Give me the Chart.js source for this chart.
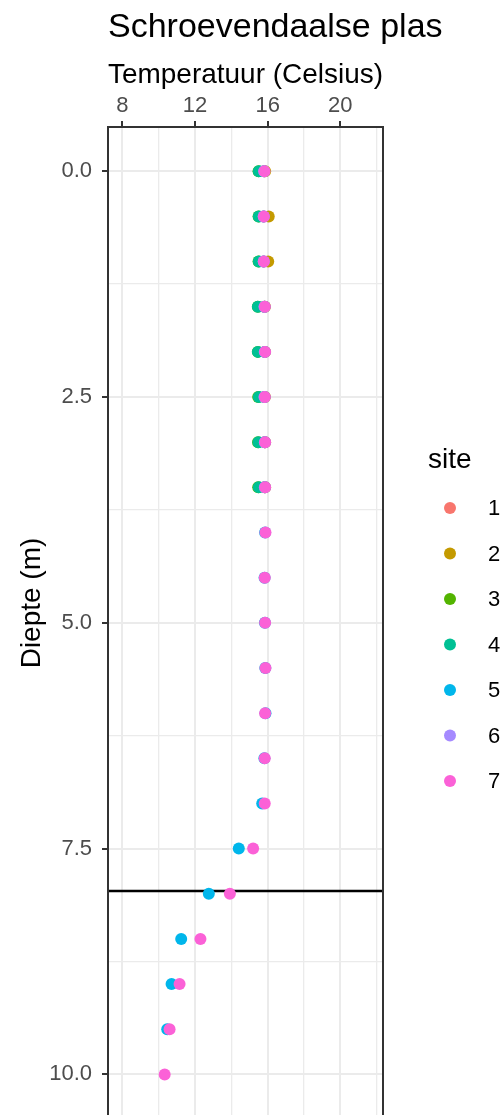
<!DOCTYPE html>
<html><head><meta charset="utf-8">
<script src="https://cdn.jsdelivr.net/npm/chart.js@4/dist/chart.umd.min.js"></script>
<style>
html,body{margin:0;padding:0;background:#fff;overflow:hidden;width:504px;height:1115px}
#wrap{position:relative;width:504px;height:1140px}
canvas{display:block}
</style></head>
<body><div id="wrap"><canvas id="c" width="504" height="1140"></canvas></div>
<script>
const chartTitle = 'Schroevendaalse plas';
const xTitle = 'Temperatuur (Celsius)';
const yTitle = 'Diepte (m)';
const legendTitle = 'site';
const sites = ['1', '2', '3', '4', '5', '6', '7'];
const siteColors = ['#F8766D', '#C49A00', '#53B400', '#00C094', '#00B6EB', '#A58AFF', '#FB61D7'];

const depthsShallow = [0, 0.5, 1, 1.5, 2, 2.5, 3, 3.5];
const depthsSite5 = [0, 0.5, 1, 1.5, 2, 2.5, 3, 3.5, 4, 4.5, 5, 5.5, 6, 6.5, 7, 7.5, 8, 8.5, 9, 9.5];
const depthsSite7 = [0, 0.5, 1, 1.5, 2, 2.5, 3, 3.5, 4, 4.5, 5, 5.5, 6, 6.5, 7, 7.5, 8, 8.5, 9, 9.5, 10];

const tempSite1 = [15.80, 15.78, 15.78, 15.82, 15.83, 15.82, 15.84, 15.84];
const tempSite2 = [15.86, 16.06, 16.03, 15.85, 15.86, 15.85, 15.86, 15.86];
const tempSite3 = [15.50, 15.50, 15.50, 15.46, 15.46, 15.48, 15.47, 15.48];
const tempSite4 = [15.51, 15.51, 15.51, 15.46, 15.46, 15.51, 15.49, 15.51];
const tempSite5 = [15.80, 15.78, 15.78, 15.82, 15.84, 15.82, 15.84, 15.84, 15.86, 15.83, 15.85, 15.87, 15.88, 15.82, 15.70, 14.41, 12.76, 11.24, 10.71, 10.47];
const tempSite6 = [15.81, 15.78, 15.78, 15.83, 15.84, 15.83, 15.85, 15.85];
const tempSite7 = [15.82, 15.79, 15.79, 15.84, 15.86, 15.84, 15.86, 15.86, 15.88, 15.84, 15.86, 15.88, 15.86, 15.84, 15.84, 15.20, 13.92, 12.30, 11.15, 10.60, 10.33];

const xMajorTicks = [8, 12, 16, 20];
const xMinorTicks = [10, 14, 18, 22];
const yMajorTicks = [0, 2.5, 5, 7.5, 10];
const yMinorTicks = [1.25, 3.75, 6.25, 8.75];
const thermoclineDepth = 7.97;

const siteDepths = [depthsShallow, depthsShallow, depthsShallow, depthsShallow, depthsSite5, depthsShallow, depthsSite7];
const siteTemps = [tempSite1, tempSite2, tempSite3, tempSite4, tempSite5, tempSite6, tempSite7];

const FONT = "'Liberation Sans', Arial, Helvetica, sans-serif";
const GRID = '#EBEBEB';
const DARK = '#333333';

const datasets = sites.map((s, i) => ({
  label: s,
  data: siteTemps[i].map((t, k) => ({x: t, y: siteDepths[i][k]})),
  backgroundColor: siteColors[i],
  borderWidth: 0,
  pointRadius: 6,
  pointHoverRadius: 6,
  order: sites.length - i
}));

const panelPlugin = {
  id: 'panel',
  beforeDatasetsDraw(chart) {
    const {ctx, chartArea: a, scales: {y}} = chart;
    const py = y.getPixelForValue(thermoclineDepth);
    ctx.save();
    ctx.strokeStyle = '#000000';
    ctx.lineWidth = 2.5;
    ctx.beginPath();
    ctx.moveTo(a.left, py);
    ctx.lineTo(a.right, py);
    ctx.stroke();
    ctx.restore();
  },
  afterDraw(chart) {
    const {ctx, chartArea: a} = chart;
    ctx.save();
    ctx.strokeStyle = DARK;
    ctx.lineWidth = 2;
    ctx.strokeRect(a.left, a.top, a.right - a.left, a.bottom - a.top);
    // title
    ctx.fillStyle = '#000000';
    ctx.font = '34px ' + FONT;
    ctx.textAlign = 'left';
    ctx.textBaseline = 'alphabetic';
    ctx.fillText(chartTitle, a.left, 37);
    // y axis title
    ctx.save();
    ctx.translate(32, 603);
    ctx.rotate(-Math.PI / 2);
    ctx.font = '28px ' + FONT;
    ctx.textAlign = 'center';
    ctx.textBaseline = 'middle';
    ctx.fillText(yTitle, 0, 0);
    ctx.restore();
    // legend
    ctx.font = '28px ' + FONT;
    ctx.textAlign = 'left';
    ctx.fillText(legendTitle, 428, 468);
    ctx.font = '22px ' + FONT;
    ctx.textBaseline = 'middle';
    sites.forEach((s, i) => {
      const cy = 508 + i * 45.5;
      ctx.fillStyle = siteColors[i];
      ctx.beginPath();
      ctx.arc(450, cy, 6, 0, Math.PI * 2);
      ctx.fill();
      ctx.fillStyle = '#000000';
      ctx.fillText(s, 488, cy + 1);
    });
    ctx.restore();
  }
};

new Chart(document.getElementById('c'), {
  type: 'scatter',
  data: {datasets},
  options: {
    responsive: false,
    animation: false,
    events: [],
    layout: {padding: {left: 0, right: 121, top: 0, bottom: 0}},
    plugins: {legend: {display: false}, title: {display: false}, tooltip: {enabled: false}},
    scales: {
      x: {
        type: 'linear',
        position: 'top',
        min: 7.21,
        max: 22.35,
        afterBuildTicks(s) { s.ticks = xMajorTicks.concat(xMinorTicks).sort((a, b) => a - b).map(v => ({value: v})); },
        afterFit(s) { s.height = 127; s.paddingLeft = 0; s.paddingRight = 0; },
        ticks: {
          autoSkip: false, maxRotation: 0, padding: 2,
          color: '#4D4D4D', font: {family: FONT, size: 22},
          callback: v => xMajorTicks.includes(v) ? String(v) : ''
        },
        grid: {
          color: GRID,
          lineWidth: c => (c.tick && xMajorTicks.includes(c.tick.value)) ? 2 : 1.3,
          tickColor: c => (c.tick && xMajorTicks.includes(c.tick.value)) ? DARK : 'rgba(0,0,0,0)',
          tickWidth: 2,
          tickLength: 6
        },
        border: {display: false},
        title: {display: true, text: xTitle, color: '#000000', font: {family: FONT, size: 28}, padding: {top: 58, bottom: 0}}
      },
      y: {
        type: 'linear',
        reverse: true,
        min: -0.49,
        max: 10.66,
        afterBuildTicks(s) { s.ticks = yMajorTicks.concat(yMinorTicks).sort((a, b) => a - b).map(v => ({value: v})); },
        afterFit(s) { s.width = 108; s.paddingTop = 0; s.paddingBottom = 0; },
        ticks: {
          autoSkip: false, padding: 10,
          color: '#4D4D4D', font: {family: FONT, size: 22},
          callback: v => yMajorTicks.includes(v) ? v.toFixed(1) : ''
        },
        grid: {
          color: GRID,
          lineWidth: c => (c.tick && yMajorTicks.includes(c.tick.value)) ? 2 : 1.3,
          tickColor: c => (c.tick && yMajorTicks.includes(c.tick.value)) ? DARK : 'rgba(0,0,0,0)',
          tickWidth: 2,
          tickLength: 6
        },
        border: {display: false},
        title: {display: false}
      }
    }
  },
  plugins: [panelPlugin]
});
</script>
</body></html>
